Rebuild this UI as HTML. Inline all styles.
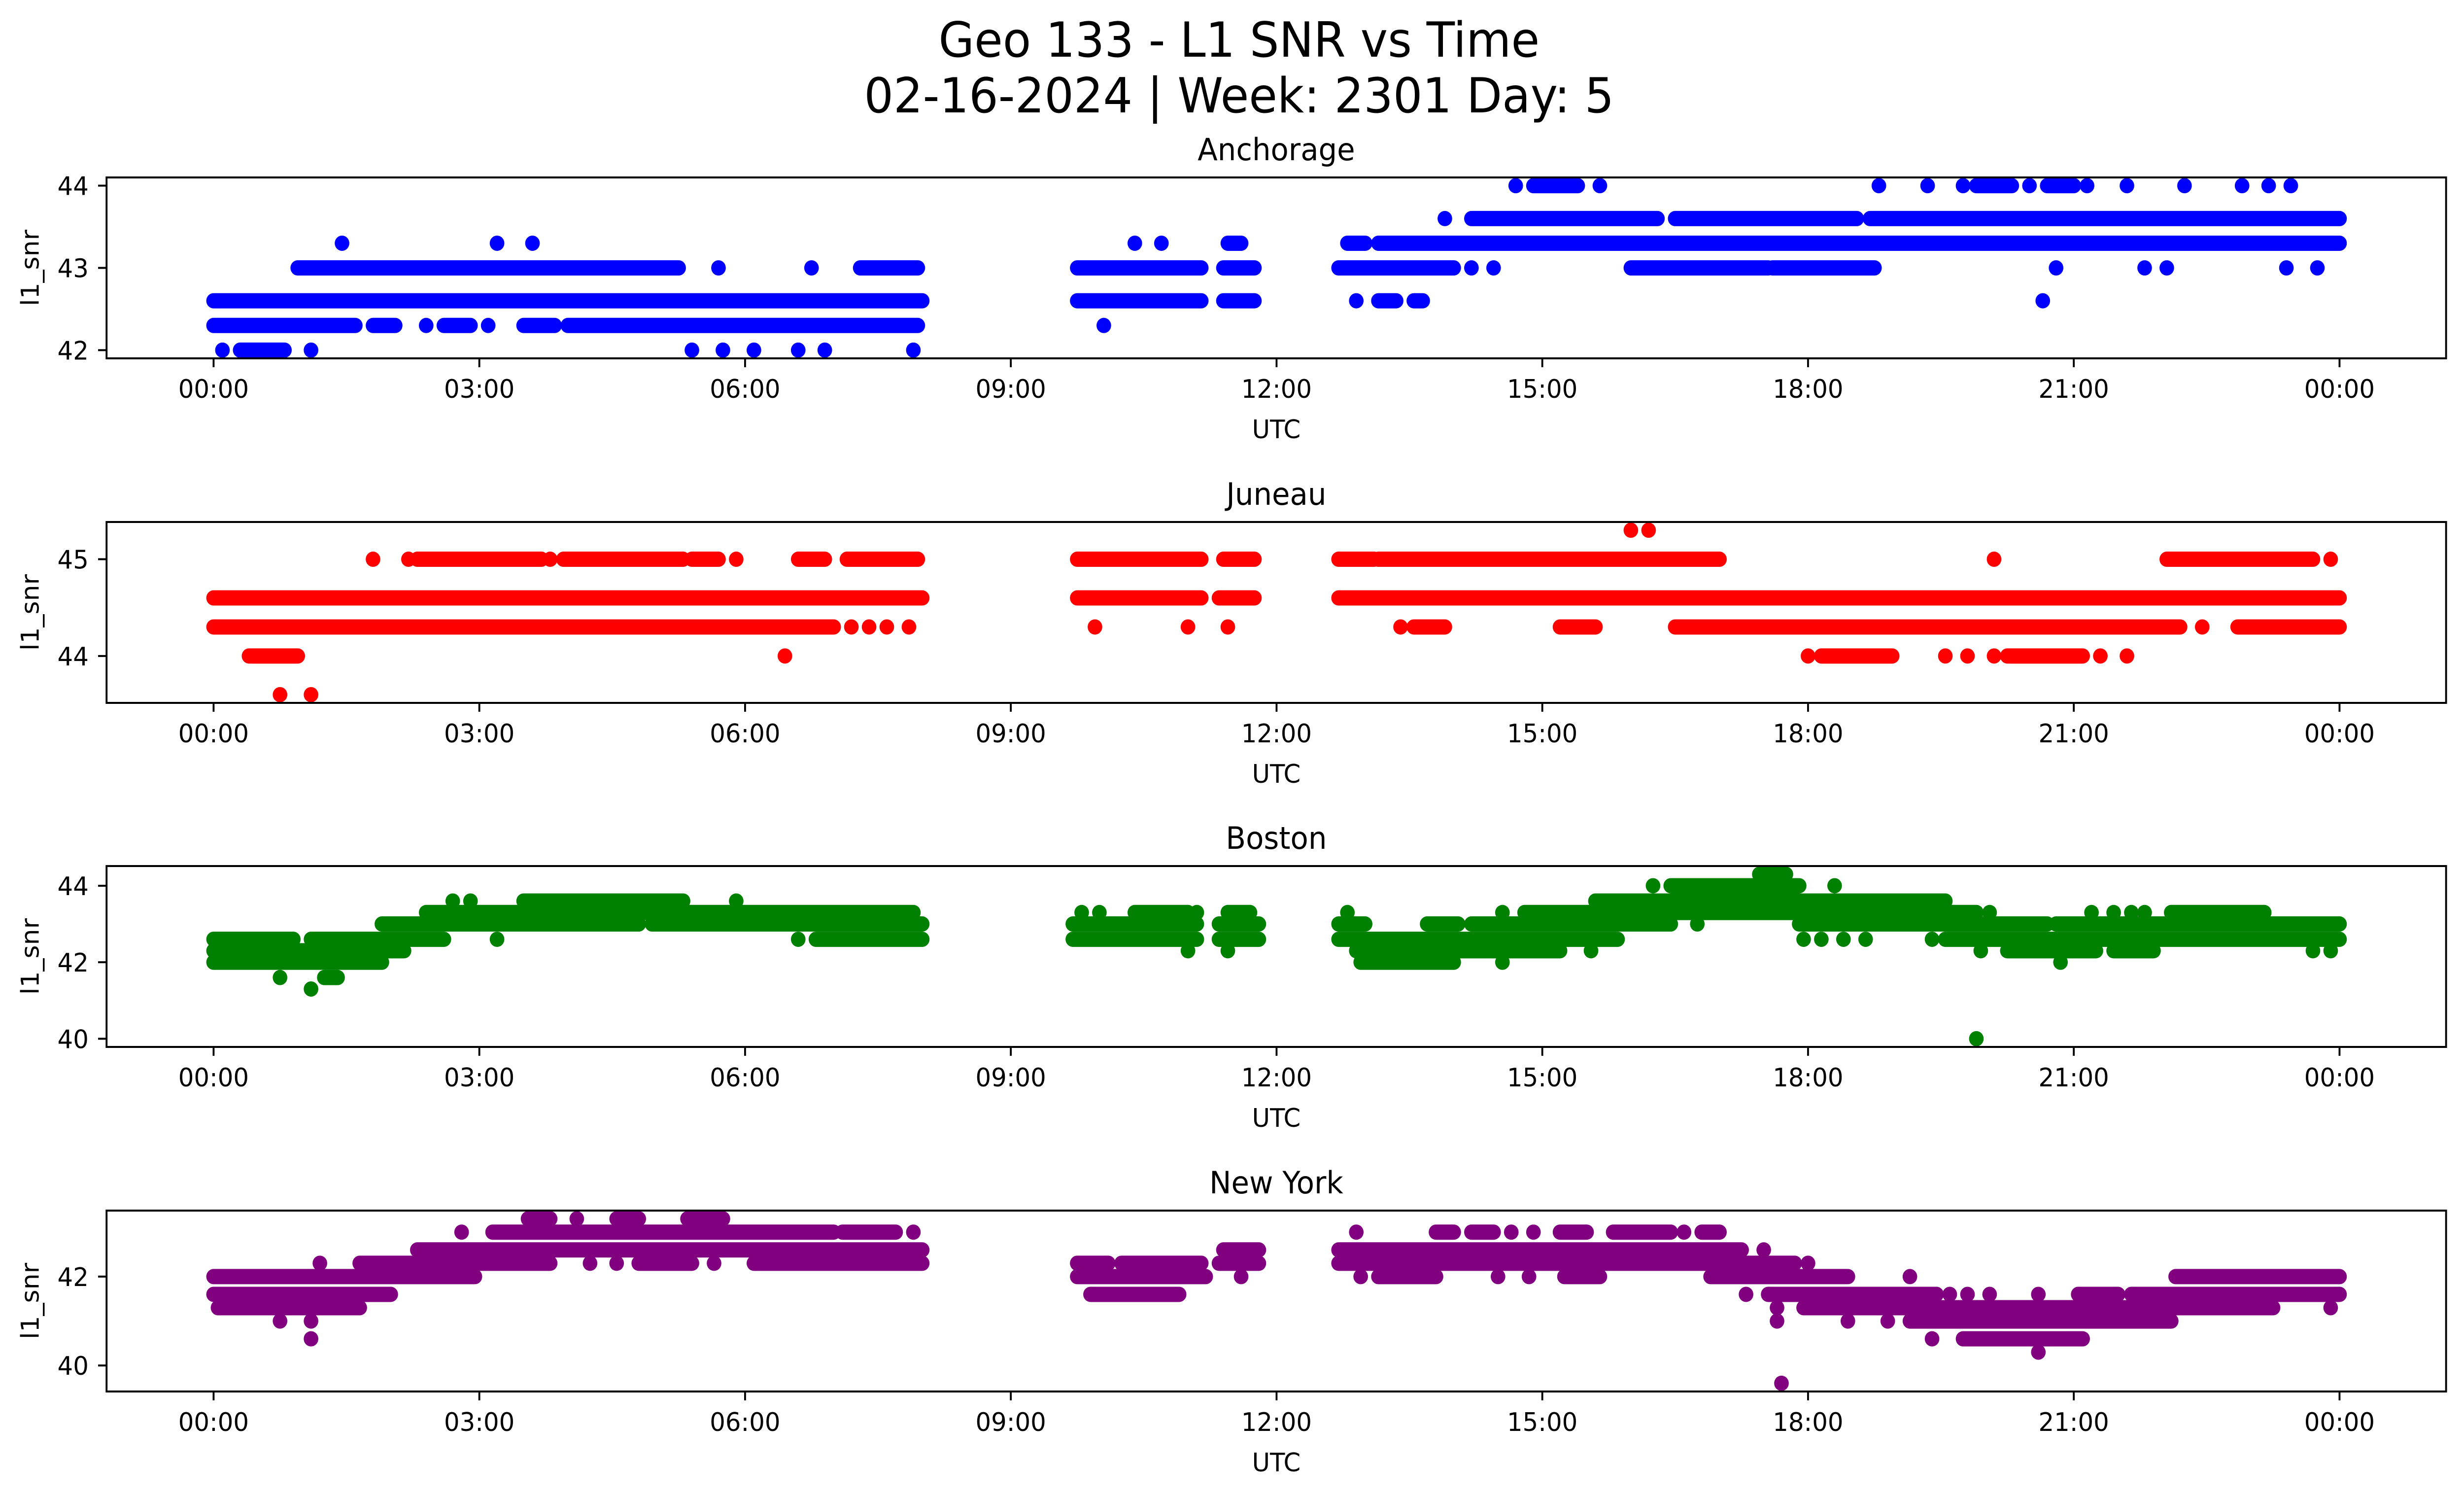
<!DOCTYPE html>
<html><head><meta charset="utf-8">
<style>
html,body{margin:0;padding:0;background:#fff;overflow:hidden;width:100%;height:100%;}
svg{display:block;width:100vw;height:100vh;}
text{font-family:"DejaVu Sans","Liberation Sans",sans-serif;fill:#000;}
</style></head>
<body>
<svg id="fig" viewBox="0 0 5226 3033" preserveAspectRatio="none" xmlns="http://www.w3.org/2000/svg">
<rect width="5226" height="3033" fill="#fff"/>
<text x="2628" y="115" font-size="98" text-anchor="middle">Geo 133 - L1 SNR vs Time</text>
<text x="2628" y="228" font-size="98" text-anchor="middle">02-16-2024 | Week: 2301 Day: 5</text>
</svg>
<script>
// x-axis tick data (hours of day)
const xTickHours = [0, 3, 6, 9, 12, 15, 18, 21, 24];
const xTickLabels = ["00:00","03:00","06:00","09:00","12:00","15:00","18:00","21:00","00:00"];
const stationNames = ["Anchorage","Juneau","Boston","New York"];
const stationColors = ["#0000ff","#ff0000","#008000","#800080"];
const yDomains = [[41.9,44.1],[43.515,45.385],[39.785,44.515],[39.415,43.485]];
const yTicks = [[42,43,44],[44,45],[40,42,44],[40,42]];

// observations: [startHour, endHour, snr]  (start==end for a single point)
const anchorageObs = [
[0,8,42.6],[9.75,11.15,42.6],[11.4,11.75,42.6],[12.9,12.9,42.6],[13.15,13.35,42.6],[13.55,13.65,42.6],[20.65,20.65,42.6],
[0,1.6,42.3],[1.8,2.05,42.3],[2.4,2.4,42.3],[2.6,2.9,42.3],[3.1,3.1,42.3],[3.5,3.85,42.3],[4.0,7.95,42.3],[10.05,10.05,42.3],
[0.1,0.1,42],[0.3,0.8,42],[1.1,1.1,42],[5.4,5.4,42],[5.75,5.75,42],[6.1,6.1,42],[6.6,6.6,42],[6.9,6.9,42],[7.9,7.9,42],
[0.95,5.25,43],[5.7,5.7,43],[6.75,6.75,43],[7.3,7.95,43],[9.75,11.15,43],[11.4,11.75,43],[12.7,14.0,43],[14.2,14.2,43],[14.45,14.45,43],[16.0,17.55,43],[17.6,18.75,43],[20.8,20.8,43],[21.8,21.8,43],[22.05,22.05,43],[23.4,23.4,43],[23.75,23.75,43],
[1.45,1.45,43.3],[3.2,3.2,43.3],[3.6,3.6,43.3],[10.4,10.4,43.3],[10.7,10.7,43.3],[11.45,11.6,43.3],[12.8,13.0,43.3],[13.15,24,43.3],
[13.9,13.9,43.6],[14.2,16.3,43.6],[16.5,18.55,43.6],[18.7,24,43.6],
[14.7,14.7,44],[14.9,15.4,44],[15.65,15.65,44],[18.8,18.8,44],[19.35,19.35,44],[19.75,19.75,44],[19.9,20.3,44],[20.5,20.5,44],[20.7,21.0,44],[21.15,21.15,44],[21.6,21.6,44],[22.25,22.25,44],[22.9,22.9,44],[23.2,23.2,44],[23.45,23.45,44]
];
const juneauObs = [
[16.0,16.0,45.3],[16.2,16.2,45.3],
[1.8,1.8,45],[2.2,2.2,45],[2.3,3.7,45],[3.8,3.8,45],[3.95,5.3,45],[5.4,5.7,45],[5.9,5.9,45],[6.6,6.9,45],[7.15,7.95,45],[9.75,11.15,45],[11.4,11.75,45],[12.7,13.1,45],[13.15,17.0,45],[20.1,20.1,45],[22.05,23.7,45],[23.9,23.9,45],
[0,8,44.6],[9.75,11.15,44.6],[11.35,11.75,44.6],[12.7,24,44.6],
[0,7.0,44.3],[7.2,7.2,44.3],[7.4,7.4,44.3],[7.6,7.6,44.3],[7.85,7.85,44.3],[9.95,9.95,44.3],[11.0,11.0,44.3],[11.45,11.45,44.3],[13.4,13.4,44.3],[13.55,13.9,44.3],[15.2,15.6,44.3],[16.5,22.2,44.3],[22.45,22.45,44.3],[22.85,24,44.3],
[0.4,0.95,44],[6.45,6.45,44],[18.0,18.0,44],[18.15,18.95,44],[19.55,19.55,44],[19.8,19.8,44],[20.1,20.1,44],[20.25,21.1,44],[21.3,21.3,44],[21.6,21.6,44],
[0.75,0.75,43.6],[1.1,1.1,43.6]
];
const bostonObs = [
[17.45,17.75,44.3],
[16.25,16.25,44],[16.45,17.9,44],[18.3,18.3,44],
[2.7,2.7,43.6],[2.9,2.9,43.6],[3.5,5.3,43.6],[5.9,5.9,43.6],[15.6,19.55,43.6],
[2.4,7.9,43.3],[9.8,9.8,43.3],[10.0,10.0,43.3],[10.4,11.0,43.3],[11.1,11.1,43.3],[11.45,11.7,43.3],[12.8,12.8,43.3],[14.55,14.55,43.3],[14.8,19.9,43.3],[20.05,20.05,43.3],[21.2,21.2,43.3],[21.45,21.45,43.3],[21.65,21.65,43.3],[21.8,21.8,43.3],[22.1,23.15,43.3],
[1.9,4.8,43],[4.95,8.0,43],[9.7,11.1,43],[11.35,11.8,43],[12.7,13.0,43],[13.7,14.05,43],[14.2,16.45,43],[16.75,16.75,43],[17.9,20.7,43],[20.8,24,43],
[0,0.9,42.6],[1.1,2.6,42.6],[3.2,3.2,42.6],[6.6,6.6,42.6],[6.8,8.0,42.6],[9.7,11.1,42.6],[11.35,11.8,42.6],[12.7,15.85,42.6],[17.95,17.95,42.6],[18.15,18.15,42.6],[18.4,18.4,42.6],[18.65,18.65,42.6],[19.4,19.4,42.6],[19.55,24,42.6],
[0,2.15,42.3],[11.0,11.0,42.3],[11.45,11.45,42.3],[12.9,15.2,42.3],[15.55,15.55,42.3],[19.95,19.95,42.3],[20.25,21.25,42.3],[21.45,21.9,42.3],[23.7,23.7,42.3],[23.9,23.9,42.3],
[0,1.9,42],[12.95,14.0,42],[14.55,14.55,42],[20.85,20.85,42],
[0.75,0.75,41.6],[1.25,1.4,41.6],
[1.1,1.1,41.3],
[19.9,19.9,40]
];
const newYorkObs = [
[3.55,3.8,43.3],[4.1,4.1,43.3],[4.55,4.8,43.3],[5.35,5.75,43.3],
[2.8,2.8,43],[3.15,7.0,43],[7.1,7.7,43],[7.9,7.9,43],[12.9,12.9,43],[13.8,14.0,43],[14.2,14.45,43],[14.65,14.65,43],[14.9,14.9,43],[15.2,15.5,43],[15.8,16.45,43],[16.6,16.6,43],[16.8,17.0,43],
[2.3,8.0,42.6],[11.4,11.8,42.6],[12.7,17.25,42.6],[17.5,17.5,42.6],
[1.2,1.2,42.3],[1.65,3.8,42.3],[4.25,4.25,42.3],[4.55,4.55,42.3],[4.8,5.4,42.3],[5.65,5.65,42.3],[6.1,8.0,42.3],[9.75,10.1,42.3],[10.25,11.15,42.3],[11.35,11.8,42.3],[12.7,17.85,42.3],[18.0,18.0,42.3],
[0,2.95,42],[9.75,11.2,42],[11.6,11.6,42],[12.95,12.95,42],[13.15,13.8,42],[14.5,14.5,42],[14.85,14.85,42],[15.25,15.65,42],[16.9,18.45,42],[19.15,19.15,42],[22.15,24,42],
[0,2.0,41.6],[9.9,10.9,41.6],[17.3,17.3,41.6],[17.55,19.45,41.6],[19.6,19.6,41.6],[19.8,19.8,41.6],[20.05,20.05,41.6],[20.6,20.6,41.6],[21.05,21.5,41.6],[21.65,24,41.6],
[0.05,1.65,41.3],[17.65,17.65,41.3],[17.95,23.25,41.3],[23.9,23.9,41.3],
[0.75,0.75,41],[1.1,1.1,41],[17.65,17.65,41],[18.45,18.45,41],[18.9,18.9,41],[19.15,22.1,41],
[1.1,1.1,40.6],[19.4,19.4,40.6],[19.75,21.1,40.6],
[20.6,20.6,40.3],
[17.7,17.7,39.6]
];
const allObs = [anchorageObs, juneauObs, bostonObs, newYorkObs];

const NS = "http://www.w3.org/2000/svg";
const svg = document.getElementById("fig");
const AX_L = 226, AX_R = 5188, AX_H = 367;
const AX_TOPS = [360, 1059, 1757, 2456];
const X0 = 453, X24 = 4962;
function xScale(h){ return X0 + h * (X24 - X0) / 24; }
function mk(tag, attrs, parent){
  const e = document.createElementNS(NS, tag);
  for (const k in attrs) e.setAttribute(k, attrs[k]);
  (parent || svg).appendChild(e);
  return e;
}
const slug = ["anchorage","juneau","boston","new-york"];

for (let p = 0; p < 4; p++) {
  const top = AX_TOPS[p], bot = top + AX_H;
  const [d0, d1] = yDomains[p];
  const yScale = v => bot - (v - d0) / (d1 - d0) * AX_H;
  const g = mk("g", {});
  
  

  const marks = mk("g", {}, g);
  
  
  const col = stationColors[p];
  allObs[p].forEach(o => {
    const x1 = xScale(o[0]), x2 = xScale(o[1]), y = yScale(o[2]);
    if (o[0] === o[1]) {
      const c = mk("circle", {cx: x1, cy: y, r: 15.5, fill: col}, marks);
      
      
    } else {
      const l = mk("line", {x1: x1, y1: y, x2: x2, y2: y, stroke: col, "stroke-width": 31, "stroke-linecap": "round"}, marks);
      
      
    }
  });

  const fr = mk("rect", {x: AX_L, y: top, width: AX_R - AX_L, height: AX_H, fill: "none", stroke: "#000", "stroke-width": 4}, g);
  
  

  xTickHours.forEach((h, i) => {
    const x = xScale(h);
    const t = mk("line", {x1: x, y1: bot, x2: x, y2: bot + 18, stroke: "#000", "stroke-width": 4}, g);
    
    
    const tl = mk("text", {x: x, y: bot + 80, "font-size": 52, "text-anchor": "middle"}, g);
    tl.textContent = xTickLabels[i];
    
    
  });
  yTicks[p].forEach(v => {
    const y = yScale(v);
    const t = mk("line", {x1: AX_L - 18, y1: y, x2: AX_L, y2: y, stroke: "#000", "stroke-width": 4}, g);
    
    
    const tl = mk("text", {x: AX_L - 38, y: y + 19, "font-size": 52, "text-anchor": "end"}, g);
    tl.textContent = String(v);
    
    
  });
  const xl = mk("text", {x: (AX_L + AX_R) / 2, y: bot + 162, "font-size": 52, "text-anchor": "middle"}, g);
  xl.textContent = "UTC";
  
  
  const yc = top + AX_H / 2;
  const yl = mk("text", {x: 82, y: yc, "font-size": 52, "text-anchor": "middle", transform: "rotate(-90 82 " + yc + ")"}, g);
  yl.textContent = "l1_snr";
  
  
  const tt = mk("text", {x: (AX_L + AX_R) / 2, y: top - 35, "font-size": 62, "text-anchor": "middle"}, g);
  tt.textContent = stationNames[p];
  
  
}
</script>
</body></html>
